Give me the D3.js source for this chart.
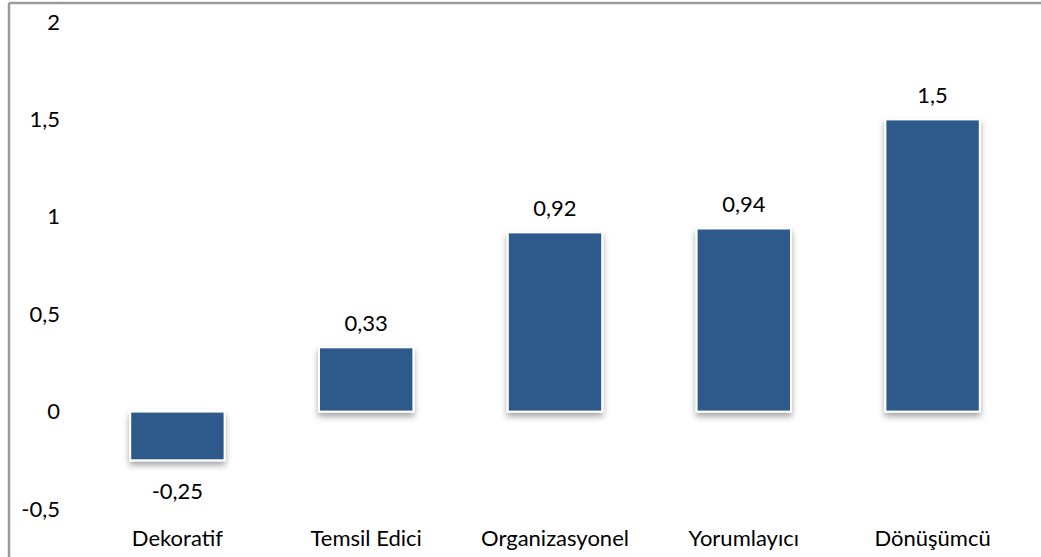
<!DOCTYPE html>
<html>
<head>
<meta charset="utf-8">
<script src="https://cdn.jsdelivr.net/npm/d3@7"></script>
<style>
    html, body { margin: 0; padding: 0; background: #fff; }
    svg text { font-family: Lato, "Open Sans", sans-serif; font-size: 22px; fill: #000; }
</style>
</head>
<body>
<svg id="chart" width="1041" height="557"></svg>
<script>
(function () {
    'use strict';

    // chart data
    let categories = ['Dekoratif', 'Temsil Edici', 'Organizasyonel', 'Yorumlayıcı', 'Dönüşümcü'];
    let values = [-0.25, 0.33, 0.92, 0.94, 1.5];
    let yTicks = [-0.5, 0, 0.5, 1, 1.5, 2];

    let width = 1041, height = 557;
    let fmt = function (v) { return String(v).replace('.', ','); };

    let svg = d3.select('#chart');

    // drop shadow for the bars
    let filter = svg.append('defs').append('filter')
        .attr('id', 'shadow')
        .attr('x', '-20%').attr('y', '-20%')
        .attr('width', '140%').attr('height', '140%');
    filter.append('feDropShadow')
        .attr('dx', 0).attr('dy', 4)
        .attr('stdDeviation', 3)
        .attr('flood-color', '#000')
        .attr('flood-opacity', 0.35);

    let x = d3.scaleBand()
        .domain(categories)
        .range([83, 1027])
        .paddingInner(0.5)
        .paddingOuter(0.25);

    let y = d3.scaleLinear()
        .domain([-0.5, 2])
        .range([509, 22]);

    // frame (top and left edges only are visible)
    svg.append('line')
        .attr('x1', 9).attr('x2', width)
        .attr('y1', 3).attr('y2', 3)
        .style('stroke', '#9a9a9a')
        .style('stroke-width', 2.5);
    svg.append('line')
        .attr('x1', 9).attr('x2', 9)
        .attr('y1', 3).attr('y2', height)
        .style('stroke', '#9a9a9a')
        .style('stroke-width', 2.5);

    // y axis labels, no line
    let yAxis = d3.axisLeft(y)
        .tickValues(yTicks)
        .tickSize(0)
        .tickPadding(0)
        .tickFormat(fmt);
    let gy = svg.append('g')
        .attr('transform', 'translate(60,0)')
        .call(yAxis);
    gy.select('.domain').remove();
    gy.selectAll('text')
        .attr('font-family', null)
        .attr('font-size', null)
        .attr('fill', null);

    // bars
    svg.append('g')
        .selectAll('rect')
        .data(values)
        .enter()
        .append('rect')
        .attr('x', function (d, i) { return x(categories[i]); })
        .attr('y', function (d) { return y(Math.max(0, d)); })
        .attr('width', x.bandwidth())
        .attr('height', function (d) { return Math.abs(y(d) - y(0)); })
        .style('fill', '#2e5a8b')
        .style('stroke', '#fff')
        .style('stroke-width', 2)
        .attr('filter', 'url(#shadow)');

    // value labels
    svg.append('g')
        .selectAll('text')
        .data(values)
        .enter()
        .append('text')
        .attr('x', function (d, i) { return x(categories[i]) + x.bandwidth() / 2; })
        .attr('y', function (d) { return d >= 0 ? y(d) - 16 : y(d) + 39; })
        .attr('text-anchor', 'middle')
        .text(fmt);

    // category labels
    svg.append('g')
        .selectAll('text')
        .data(categories)
        .enter()
        .append('text')
        .attr('x', function (d) { return x(d) + x.bandwidth() / 2; })
        .attr('y', 546)
        .attr('text-anchor', 'middle')
        .text(function (d) { return d; });
})();
</script>
</body>
</html>
